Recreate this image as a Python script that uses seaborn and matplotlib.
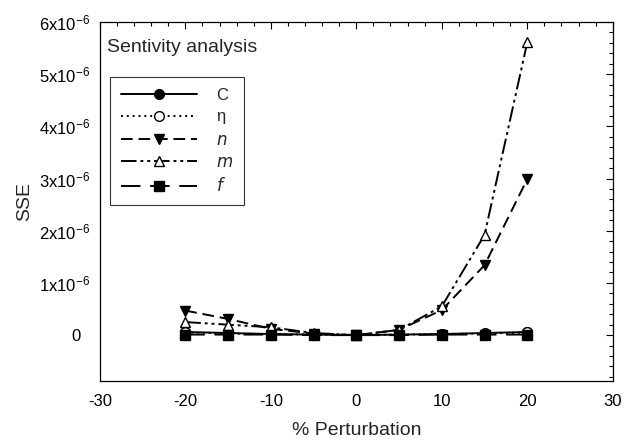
import matplotlib
matplotlib.use("Agg")
import matplotlib.pyplot as plt
import numpy as np
import pandas as pd
import seaborn as sns
from matplotlib.ticker import MultipleLocator

sns.set_style("white")
plt.rcParams["font.family"] = ["Liberation Sans", "DejaVu Sans"]
plt.rcParams["mathtext.default"] = "regular"
plt.rcParams["axes.unicode_minus"] = False

# % perturbation values
perturbation = [-20, -15, -10, -5, 0, 5, 10, 15, 20]

# SSE values (x1e-6)
sse_C = [0.06, 0.04, 0.02, 0.01, 0.0, 0.01, 0.02, 0.04, 0.06]
sse_eta = [0.05, 0.03, 0.02, 0.01, 0.0, 0.01, 0.02, 0.03, 0.05]
sse_n = [0.47, 0.31, 0.12, 0.03, 0.0, 0.10, 0.48, 1.34, 2.99]
sse_m = [0.25, 0.20, 0.15, 0.04, 0.0, 0.10, 0.55, 1.92, 5.61]
sse_f = [0.01, 0.01, 0.01, 0.0, 0.0, 0.0, 0.01, 0.01, 0.01]

series_names = ["C", "$\\eta$", "$\\it{n}$", "$\\it{m}$", "$\\it{f}$"]
series_values = [sse_C, sse_eta, sse_n, sse_m, sse_f]

ytick_values = [0, 1, 2, 3, 4, 5, 6]
ytick_labels = ["0  "] + ["%dx10$^{-6}$" % v for v in ytick_values[1:]]

# line style, marker, marker face colour for each series
styles = [
    ("-", "o", "black"),
    ((0, (1, 2)), "o", "white"),
    ((0, (6, 3)), "v", "black"),
    ((0, (8, 2, 1.5, 2, 1.5, 2)), "^", "white"),
    ((0, (10, 5)), "s", "black"),
]

fig = plt.figure(figsize=(6.24, 4.41), dpi=100)
ax = fig.add_axes([0.160, 0.136, 0.822, 0.814])

for name, vals, (ls, mk, mfc) in zip(series_names, series_values, styles):
    df = pd.DataFrame({"x": perturbation, "y": np.array(vals) * 1e-6})
    sns.lineplot(
        data=df, x="x", y="y", ax=ax, color="black", linestyle=ls,
        linewidth=1.4, marker=mk, markersize=7, markerfacecolor=mfc,
        markeredgecolor="black", markeredgewidth=1.0, label=name,
    )

ax.set_xlim(-30, 30)
ax.set_ylim(-0.88e-6, 6e-6)
ax.set_xticks([-30, -20, -10, 0, 10, 20, 30])
ax.xaxis.set_minor_locator(MultipleLocator(2))
ax.set_yticks([v * 1e-6 for v in ytick_values], ytick_labels)
ax.yaxis.set_minor_locator(MultipleLocator(0.2e-6))
ax.tick_params(which="both", direction="in", top=True, right=True,
               labelsize=12, colors="black")
ax.tick_params(axis="x", which="major", pad=9)
ax.tick_params(axis="y", which="major", pad=7)
ax.tick_params(which="major", length=5, width=0.8)
ax.tick_params(which="minor", length=3, width=0.8)
for sp in ax.spines.values():
    sp.set_color("black")
    sp.set_linewidth(0.9)

ax.set_xlabel("% Perturbation", fontsize=14, labelpad=10)
ax.set_ylabel("SSE", fontsize=14, labelpad=4)

ax.text(0.014, 0.93, "Sentivity analysis", transform=ax.transAxes,
        fontsize=14, va="center", ha="left")

leg = ax.legend(loc="upper left", bbox_to_anchor=(0.0195, 0.847), frameon=True,
                fancybox=False, edgecolor="black", fontsize=12,
                handlelength=4.6, borderpad=0.65, labelspacing=0.4,
                handletextpad=1.1, borderaxespad=0)
leg.get_frame().set_linewidth(0.8)

fig.savefig("out.png", dpi=100)
